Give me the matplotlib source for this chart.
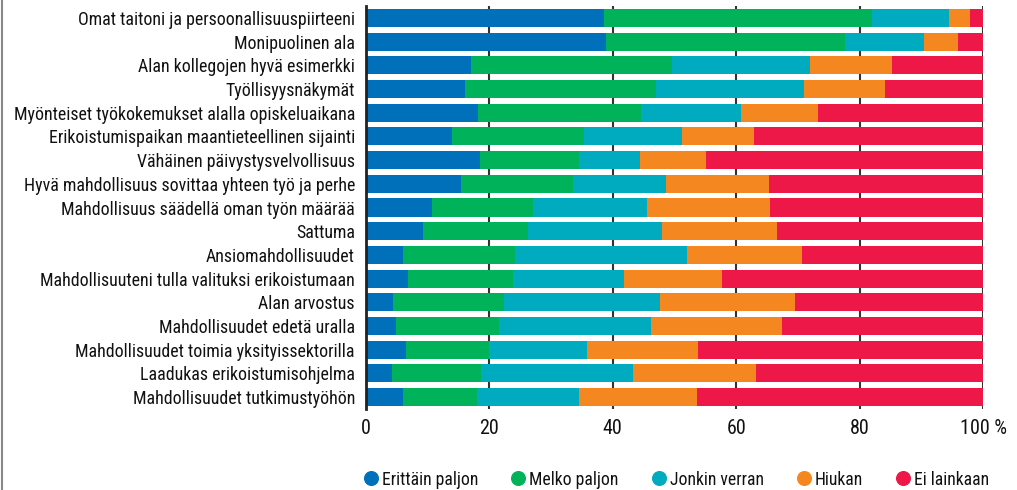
import matplotlib
matplotlib.use("Agg")
import matplotlib.pyplot as plt
from matplotlib.lines import Line2D
import numpy as np

categories = [
    "Omat taitoni ja persoonallisuuspiirteeni",
    "Monipuolinen ala",
    "Alan kollegojen hyvä esimerkki",
    "Työllisyysnäkymät",
    "Myönteiset työkokemukset alalla opiskeluaikana",
    "Erikoistumispaikan maantieteellinen sijainti",
    "Vähäinen päivystysvelvollisuus",
    "Hyvä mahdollisuus sovittaa yhteen työ ja perhe",
    "Mahdollisuus säädellä oman työn määrää",
    "Sattuma",
    "Ansiomahdollisuudet",
    "Mahdollisuuteni tulla valituksi erikoistumaan",
    "Alan arvostus",
    "Mahdollisuudet edetä uralla",
    "Mahdollisuudet toimia yksityissektorilla",
    "Laadukas erikoistumisohjelma",
    "Mahdollisuudet tutkimustyöhön",
]

series_names = ["Erittäin paljon", "Melko paljon", "Jonkin verran", "Hiukan", "Ei lainkaan"]

erittain = [38.6, 38.9, 17.0, 16.0, 18.2, 13.9, 18.5, 15.4, 10.7, 9.2, 6.0, 6.8, 4.4, 4.9, 6.5, 4.2, 6.0]
melko    = [43.4, 38.8, 32.6, 31.0, 26.4, 21.4, 16.0, 18.1, 16.4, 17.1, 18.1, 17.0, 18.0, 16.7, 13.4, 14.4, 12.0]
jonkin   = [12.5, 12.7, 22.4, 24.0, 16.2, 15.9, 9.9, 15.1, 18.4, 21.7, 27.9, 18.0, 25.2, 24.6, 15.9, 24.7, 16.5]
hiukan   = [3.4, 5.5, 13.3, 13.1, 12.5, 11.7, 10.7, 16.7, 20.0, 18.6, 18.7, 15.9, 21.9, 21.2, 18.0, 19.9, 19.1]
ei       = [2.1, 4.1, 14.7, 15.9, 26.7, 37.1, 44.9, 34.7, 34.5, 33.4, 29.3, 42.3, 30.5, 32.6, 46.2, 36.8, 46.4]

colors = ["#0070BB", "#00B25A", "#00ABBF", "#F58720", "#EE1848"]

import logging
logging.getLogger("matplotlib.font_manager").setLevel(logging.ERROR)
plt.rcParams['font.family'] = ["Roboto Condensed", "IBM Plex Sans Condensed", "DejaVu Sans"]

fig = plt.figure(figsize=(10.17, 4.90), dpi=100)
W, H = 1017, 490
ax = fig.add_axes([366 / W, 1 - 409 / H, (983 - 366) / W, (409 - 6) / H])

y = np.arange(len(categories))
left = np.zeros(len(categories))
for vals, c, name in zip([erittain, melko, jonkin, hiukan, ei], colors, series_names):
    ax.barh(y, vals, left=left, color=c, height=0.76, label=name, zorder=3)
    left += np.array(vals)

ax.set_ylim(len(categories) - 0.5, -0.5)
ax.set_xlim(0, 100)
ax.set_yticks(y)
ax.set_yticklabels(categories, fontsize=12.9, color="#111111")
ax.set_xticks([0, 20, 40, 60, 80, 100])
ax.set_xticklabels(["0", "20", "40", "60", "80", "100 %"], fontsize=14.5, color="#111111")
ax.tick_params(axis="y", length=0, pad=8)
ax.tick_params(axis="x", length=0, pad=7)
for s in ["top", "right", "bottom"]:
    ax.spines[s].set_visible(False)
ax.spines["left"].set_color("#222222")
ax.spines["left"].set_linewidth(2)
ax.spines["left"].set_zorder(4)
ax.grid(axis="x", color="#333333", linewidth=1.5, zorder=0)
ax.set_axisbelow(True)

# Legend: circle marker + label, laid out left to right
renderer = fig.canvas.get_renderer()
x_px = 371.0
y_leg = 1 - 478 / H
for name, c in zip(series_names, colors):
    fig.add_artist(Line2D([x_px / W], [y_leg], marker="o", markersize=9.8, color=c,
                          markeredgecolor=c, linestyle="none", transform=fig.transFigure))
    t = fig.text((x_px + 11) / W, y_leg, name, fontsize=12.7, color="#111111",
                 ha="left", va="center_baseline")
    bb = t.get_window_extent(renderer=renderer)
    x_px = bb.x1 + 40

fig.add_artist(Line2D([1.5 / W, 1.5 / W], [0, 1], color="#888888", linewidth=1.5,
                      transform=fig.transFigure))

fig.savefig("out.png", dpi=100)
